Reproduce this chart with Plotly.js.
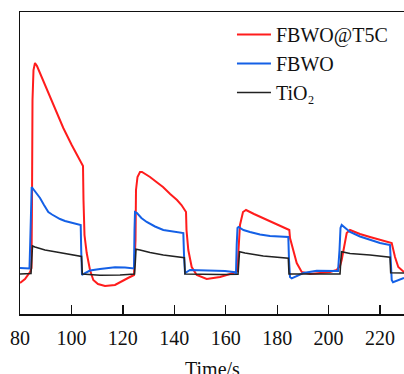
<!DOCTYPE html>
<html>
<head>
<meta charset="utf-8">
<script src="https://cdn.plot.ly/plotly-3.0.1.min.js"></script>
<style>html,body{margin:0;padding:0;background:#fff;}#chart{width:404px;height:374px;}</style>
</head>
<body>
<div id="chart"></div>
<script>
// Time (s) and photocurrent (arbitrary units)
const redT = [80, 81.94, 83.89, 84.47, 84.67, 84.86, 85.25, 85.83, 86.61, 87.78, 89.06, 91.67, 94.27, 96.84, 100.11, 102.17, 104.5, 104.69, 105.08, 105.94, 107.22, 108.5, 110.33, 113.06, 116.94, 122.0, 124.33, 124.92, 125.11, 125.69, 126.67, 127.44, 128.9, 130.56, 133.06, 135.61, 138.4, 141.06, 142.8, 144.56, 144.75, 145.45, 146.77, 148.72, 152.6, 157.78, 162.95, 164.58, 164.97, 165.55, 166.72, 167.89, 171.0, 174.61, 179.55, 184.73, 185.0, 186.28, 187.61, 189.55, 192.78, 196.67, 200.56, 203.17, 204.44, 205.1, 205.73, 207.05, 208.33, 212.2, 216.11, 220.0, 223.89, 224.55, 225.83, 227.11, 229.33];
const redI = [0.31, 0.35, 0.42, 0.46, 1.14, 2.14, 2.44, 2.51, 2.48, 2.41, 2.34, 2.17, 2.01, 1.86, 1.69, 1.59, 1.48, 1.14, 0.79, 0.61, 0.44, 0.34, 0.30, 0.28, 0.29, 0.36, 0.39, 0.74, 1.24, 1.37, 1.42, 1.42, 1.40, 1.37, 1.32, 1.27, 1.20, 1.14, 1.09, 1.02, 0.84, 0.64, 0.47, 0.39, 0.35, 0.37, 0.41, 0.43, 0.64, 0.89, 1.02, 1.04, 1.00, 0.96, 0.90, 0.84, 0.76, 0.64, 0.51, 0.42, 0.40, 0.41, 0.42, 0.44, 0.48, 0.54, 0.64, 0.81, 0.84, 0.80, 0.77, 0.745, 0.72, 0.71, 0.57, 0.47, 0.42];

const blueT = [80, 83.69, 84.0, 84.28, 84.55, 85.44, 86.61, 87.78, 89.33, 91.01, 92.44, 94.0, 95.56, 97.5, 100.61, 103.61, 103.8, 104.11, 105.28, 107.22, 111.11, 116.94, 120.83, 123.44, 124.33, 124.53, 124.72, 125.5, 127.2, 129.27, 132.5, 135.73, 140.28, 143.51, 143.78, 144.17, 146.11, 153.89, 159.72, 162.95, 164.0, 164.27, 164.58, 164.97, 166.9, 169.44, 173.33, 177.22, 184.34, 184.61, 185.0, 185.66, 187.33, 190.18, 195.38, 200.56, 203.67, 204.25, 204.64, 205.1, 206.39, 208.33, 212.22, 216.11, 220.0, 223.89, 224.16, 224.55, 225.06, 226.61, 227.78, 229.33];
const blueI = [0.46, 0.455, 0.74, 1.19, 1.27, 1.24, 1.20, 1.16, 1.09, 1.02, 0.995, 0.97, 0.95, 0.93, 0.91, 0.89, 0.64, 0.39, 0.41, 0.435, 0.45, 0.467, 0.465, 0.453, 0.455, 0.84, 1.02, 1.01, 0.96, 0.92, 0.875, 0.84, 0.82, 0.81, 0.59, 0.41, 0.44, 0.435, 0.43, 0.42, 0.41, 0.69, 0.86, 0.87, 0.84, 0.82, 0.795, 0.78, 0.77, 0.54, 0.37, 0.357, 0.375, 0.41, 0.433, 0.433, 0.43, 0.64, 0.86, 0.89, 0.865, 0.82, 0.775, 0.74, 0.71, 0.69, 0.52, 0.34, 0.317, 0.33, 0.347, 0.36];

const blackT = [80, 84.28, 84.55, 84.86, 85.83, 89.72, 93.61, 98.67, 103.33, 103.92, 104.23, 111.11, 118.89, 124.53, 124.84, 125.11, 126.67, 130.56, 135.73, 143.9, 144.17, 150.0, 157.78, 164.78, 165.05, 165.36, 167.5, 174.61, 184.34, 184.61, 192.78, 200.56, 204.44, 204.72, 205.03, 208.33, 216.11, 223.89, 224.16, 229.33];
const blackI = [0.40, 0.405, 0.54, 0.68, 0.67, 0.64, 0.623, 0.60, 0.58, 0.575, 0.40, 0.387, 0.39, 0.40, 0.52, 0.647, 0.64, 0.615, 0.59, 0.563, 0.40, 0.395, 0.395, 0.397, 0.52, 0.623, 0.61, 0.58, 0.557, 0.40, 0.40, 0.40, 0.40, 0.52, 0.623, 0.605, 0.59, 0.567, 0.413, 0.41];

const seriesNames = ['FBWO@T5C', 'FBWO', 'TiO₂'];
const xTicks = [80, 100, 120, 140, 160, 180, 200, 220];
const xTitle = 'Time/s';

const serif = 'Liberation Serif, Times New Roman, serif';
const traces = [
  {x: redT, y: redI, name: seriesNames[0], mode: 'lines', line: {color: '#ff1c1c', width: 2}},
  {x: blueT, y: blueI, name: seriesNames[1], mode: 'lines', line: {color: '#1460e6', width: 2}},
  {x: blackT, y: blackI, name: seriesNames[2], mode: 'lines', line: {color: '#222222', width: 1.6}}
];
const layout = {
  width: 404, height: 374,
  margin: {l: 20, r: 0, t: 12, b: 60},
  paper_bgcolor: '#fff', plot_bgcolor: '#fff',
  font: {family: serif, color: '#111', size: 20},
  showlegend: true,
  legend: {x: 0.552, y: 0.99, xanchor: 'left', yanchor: 'top', bgcolor: 'rgba(0,0,0,0)',
           font: {family: serif, size: 20, color: '#111'}, tracegroupgap: 0, itemwidth: 34},
  xaxis: {range: [80, 229.33], tickvals: xTicks, ticktext: xTicks.map(String),
          ticks: 'inside', ticklen: 9, tickwidth: 1.3, tickcolor: '#111',
          showline: true, linecolor: '#111', linewidth: 1.5, mirror: true,
          showgrid: false, zeroline: false, automargin: false, ticklabelstandoff: 5,
          tickfont: {family: serif, size: 20, color: '#111'}},
  yaxis: {range: [0, 3.02], showticklabels: false, ticks: '', showline: true, linecolor: '#111',
          linewidth: 1.5, mirror: false, showgrid: false, zeroline: false, automargin: false},
  annotations: [{text: xTitle, xref: 'paper', yref: 'paper', x: 0.5, y: -0.139,
                 xanchor: 'center', yanchor: 'top', showarrow: false,
                 font: {family: serif, size: 20, color: '#111'}}]
};
Plotly.newPlot('chart', traces, layout, {displayModeBar: false, staticPlot: true});
</script>
</body>
</html>
